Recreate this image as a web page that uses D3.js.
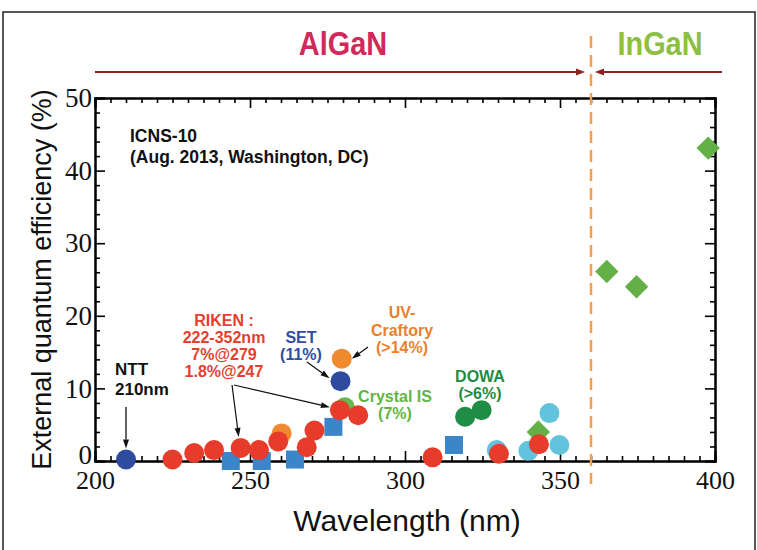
<!DOCTYPE html>
<html>
<head>
<meta charset="utf-8">
<script src="https://cdn.jsdelivr.net/npm/d3@7/dist/d3.min.js"></script>
<style>
  html, body { margin: 0; padding: 0; background: #fff; }
  svg { display: block; }
</style>
</head>
<body>
<svg id="chart" width="757" height="550"></svg>
<script>
// Wavelength (nm) vs external quantum efficiency (%) of UV LEDs
const xMajorTicks = [200, 250, 300, 350, 400];
const yMajorTicks = [0, 10, 20, 30, 40, 50];

// [wavelength nm, EQE %]
const rikenPoints   = [[225, 0.2], [232, 1.1], [238.4, 1.5], [247, 1.8], [252.9, 1.5], [259.1, 2.7],
                       [268.3, 1.9], [270.8, 4.2], [279, 7.0], [284.9, 6.3], [308.9, 0.5], [330.3, 1.0], [343.2, 2.3]];
const blueCircles   = [[210, 0.2], [279.2, 11.0]];
const blueSquares   = [[243.8, 0.0], [253.8, 0.0], [264.5, 0.2], [276.9, 4.7], [315.8, 2.2]];
const orangeCircles = [[260.2, 3.8], [279.6, 14.1]];
const crystalIS     = [[280.6, 7.4]];
const dowaPoints    = [[319.4, 6.1], [324.7, 7.0]];
const cyanCircles   = [[329.6, 1.5], [339.8, 1.4], [346.6, 6.6], [349.8, 2.2]];
const inganDiamonds = [[343, 4.0], [365.1, 26.1], [374.7, 24.0], [397.8, 43.1]];
const boundaryNm = 360;

const svg = d3.select("#chart");
const x = d3.scaleLinear().domain([200, 400]).range([95, 715]);
const y = d3.scaleLinear().domain([0, 50]).range([461, 98]);

// outer frame
svg.append("rect").attr("x", 3).attr("y", 12).attr("width", 752).attr("height", 560)
  .attr("fill", "none").attr("stroke", "#222").attr("stroke-width", 1.5);

const serif = "'Liberation Serif', 'Times New Roman', serif";
const sans = "'Liberation Sans', Arial, Helvetica, sans-serif";

// axes: major + minor ticks pointing inward on all four sides
function styleAxis(g) {
  g.select(".domain").attr("stroke", "#000").attr("stroke-width", 2);
  g.selectAll(".tick line").attr("stroke", "#000").attr("stroke-width", 1.6);
}
const xMinor = d3.range(200, 401, 5).filter(v => v % 50 !== 0);
const yMinor = d3.range(0, 51, 2).filter(v => v % 10 !== 0);

svg.append("g").attr("transform", `translate(0,${y(0)})`)
  .call(d3.axisBottom(x).tickValues(xMinor).tickSize(-5).tickFormat(""))
  .call(styleAxis);
svg.append("g").attr("transform", `translate(0,${y(0)})`)
  .call(d3.axisBottom(x).tickValues(xMajorTicks).tickSize(-10).tickPadding(10).tickFormat(d3.format("d")))
  .call(styleAxis)
  .selectAll("text").attr("font-family", serif).attr("font-size", 26).attr("fill", "#111");
svg.append("g").attr("transform", `translate(0,${y(50)})`)
  .call(d3.axisTop(x).tickValues(xMinor).tickSize(-5).tickFormat(""))
  .call(styleAxis);
svg.append("g").attr("transform", `translate(0,${y(50)})`)
  .call(d3.axisTop(x).tickValues(xMajorTicks).tickSize(-10).tickFormat(""))
  .call(styleAxis);

svg.append("g").attr("transform", `translate(${x(200)},0)`)
  .call(d3.axisLeft(y).tickValues(yMinor).tickSize(-5).tickFormat(""))
  .call(styleAxis);
const yLabels = svg.append("g").attr("transform", `translate(${x(200)},0)`)
  .call(d3.axisLeft(y).tickValues(yMajorTicks).tickSize(-10).tickPadding(3).tickFormat(d3.format("d")))
  .call(styleAxis);
yLabels.selectAll("text").attr("font-family", serif).attr("font-size", 27).attr("fill", "#111");
// the zero label sits just above the wavelength labels
yLabels.selectAll("text").filter(d => d === 0).attr("dy", "0.1em");
svg.append("g").attr("transform", `translate(${x(400)},0)`)
  .call(d3.axisRight(y).tickValues(yMinor).tickSize(-5).tickFormat(""))
  .call(styleAxis);
svg.append("g").attr("transform", `translate(${x(400)},0)`)
  .call(d3.axisRight(y).tickValues(yMajorTicks).tickSize(-10).tickFormat(""))
  .call(styleAxis);

// axis titles
svg.append("text").attr("x", x(300) + 2).attr("y", 531).attr("text-anchor", "middle")
  .attr("font-family", sans).attr("font-size", 30).attr("fill", "#111").text("Wavelength (nm)");
svg.append("text").attr("transform", `translate(51,${(y(0) + y(50)) / 2}) rotate(-90)`)
  .attr("text-anchor", "middle").attr("font-family", sans).attr("font-size", 27).attr("fill", "#111")
  .text("External quantum efficiency (%)");

// arrow helper (line with filled triangular head at the end point)
function arrow(x1, y1, x2, y2, color, width, headLen, headW) {
  const ang = Math.atan2(y2 - y1, x2 - x1);
  const bx = x2 - headLen * Math.cos(ang), by = y2 - headLen * Math.sin(ang);
  svg.append("line").attr("x1", x1).attr("y1", y1).attr("x2", bx).attr("y2", by)
    .attr("stroke", color).attr("stroke-width", width);
  const px = -Math.sin(ang) * headW / 2, py = Math.cos(ang) * headW / 2;
  svg.append("path")
    .attr("d", `M${x2},${y2}L${bx + px},${by + py}L${bx - px},${by - py}Z`)
    .attr("fill", color);
}

// material regions
const bx = x(boundaryNm);
svg.append("line").attr("x1", bx).attr("x2", bx).attr("y1", 36).attr("y2", 484)
  .attr("stroke", "#f3a04e").attr("stroke-width", 2.5).attr("stroke-dasharray", "12,7");
arrow(x(200), 72, bx - 6, 72, "#8c2323", 2, 9, 7);
arrow(722, 72, bx + 4, 72, "#8c2323", 2, 9, 7);
svg.append("text").attr("transform", "translate(343,55) scale(0.85,1)").attr("text-anchor", "middle")
  .attr("font-family", sans).attr("font-weight", "bold").attr("font-size", 34).attr("fill", "#d2285a")
  .text("AlGaN");
svg.append("text").attr("transform", "translate(660,55) scale(0.85,1)").attr("text-anchor", "middle")
  .attr("font-family", sans).attr("font-weight", "bold").attr("font-size", 34).attr("fill", "#8cc044")
  .text("InGaN");

// data marks
const R = 10;
function circles(data, color) {
  svg.append("g").selectAll("circle").data(data).join("circle")
    .attr("cx", d => x(d[0])).attr("cy", d => y(d[1])).attr("r", R).attr("fill", color);
}
circles(cyanCircles, "#62c3dc");
svg.append("g").selectAll("path").data(inganDiamonds).join("path")
  .attr("transform", d => `translate(${x(d[0])},${y(d[1])}) rotate(45)`)
  .attr("d", d3.symbol(d3.symbolSquare, 16.5 * 16.5)).attr("fill", "#62b046");
svg.append("g").selectAll("rect").data(blueSquares).join("rect")
  .attr("x", d => x(d[0]) - 9).attr("y", d => y(d[1]) - 9).attr("width", 18).attr("height", 18)
  .attr("fill", "#3a86c8");
circles(orangeCircles, "#ef8a2e");
circles(crystalIS, "#66b84c");
circles(dowaPoints, "#1f8d45");
circles(rikenPoints, "#e73b2c");
circles(blueCircles, "#2f4b9e");

// annotations
function label(lines, cx, y0, lh, color, anchor, size) {
  const t = svg.append("text").attr("font-family", sans).attr("font-weight", "bold")
    .attr("font-size", size).attr("fill", color).attr("text-anchor", anchor);
  lines.forEach((s, i) => t.append("tspan").attr("x", cx).attr("y", y0 + i * lh).text(s));
}
label(["ICNS-10", "(Aug. 2013, Washington, DC)"], 130, 142, 21, "#111", "start", 17.5);
label(["NTT", "210nm"], 115, 375, 20, "#111", "start", 17);
arrow(x(210), 407, x(210), y(0.2) - 11, "#111", 1.3, 9, 6);

label(["RIKEN :", "222-352nm", "7%@279", "1.8%@247"], 224, 326, 17, "#e4402e", "middle", 16);
arrow(232, 385, x(247) - 2, y(1.8) - 11, "#111", 1.2, 9, 6);
arrow(234, 385, x(279) - 10, y(7.0) - 3, "#111", 1.2, 9, 6);

label(["SET", "(11%)"], 301, 343, 17, "#2f4d9f", "middle", 16);
arrow(307, 362, x(279.2) - 11, y(11.0) - 3, "#111", 1.2, 9, 6);

label(["UV-", "Craftory", "(>14%)"], 402, 318, 17.5, "#ec7f2c", "middle", 16);
arrow(368, 347, x(279.6) + 10, y(14.1), "#111", 1.2, 9, 6);

label(["Crystal IS", "(7%)"], 395, 402, 17, "#62b545", "middle", 16);
label(["DOWA", "(>6%)"], 480, 382, 17, "#1f8c44", "middle", 16);
</script>
</body>
</html>
